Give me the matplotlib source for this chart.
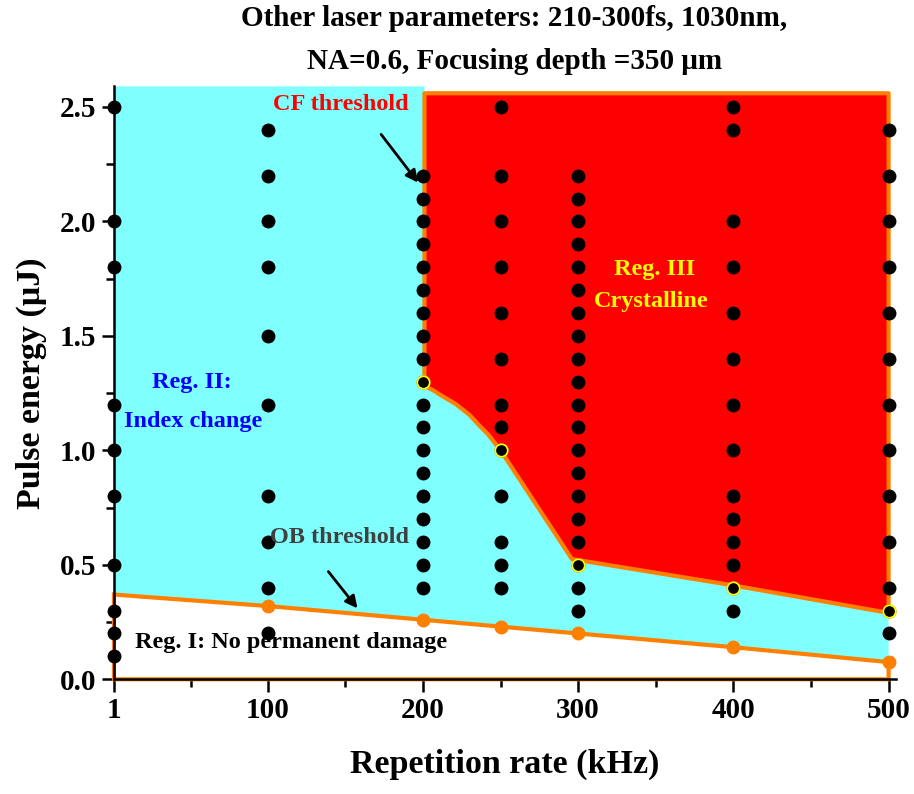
import numpy as np
import matplotlib.pyplot as plt

plt.rcParams['font.family'] = ['Liberation Serif', 'DejaVu Serif']
plt.rcParams['font.weight'] = 'bold'
plt.rcParams['axes.labelweight'] = 'bold'

# scanned points: repetition rate (kHz) -> pulse energies (uJ)
rate_1 = [2.5, 2.0, 1.8, 1.2, 1.0, 0.8, 0.5, 0.3, 0.2, 0.1]
rate_100 = [2.4, 2.2, 2.0, 1.8, 1.5, 1.2, 0.8, 0.6, 0.4, 0.2]
rate_200 = [2.2, 2.1, 2.0, 1.9, 1.8, 1.7, 1.6, 1.5, 1.4, 1.3, 1.2, 1.1, 1.0,
            0.9, 0.8, 0.7, 0.6, 0.5, 0.4]
rate_250 = [2.5, 2.2, 2.0, 1.8, 1.6, 1.4, 1.2, 1.1, 1.0, 0.8, 0.6, 0.5, 0.4]
rate_300 = [2.2, 2.1, 2.0, 1.9, 1.8, 1.7, 1.6, 1.5, 1.4, 1.3, 1.2, 1.1, 1.0,
            0.9, 0.8, 0.7, 0.6, 0.5, 0.4, 0.3]
rate_400 = [2.5, 2.4, 2.0, 1.8, 1.6, 1.4, 1.2, 1.0, 0.8, 0.7, 0.6, 0.5, 0.4, 0.3]
rate_500 = [2.4, 2.2, 2.0, 1.8, 1.6, 1.4, 1.2, 1.0, 0.8, 0.6, 0.4, 0.3, 0.2]
scans = {1: rate_1, 100: rate_100, 200: rate_200, 250: rate_250,
         300: rate_300, 400: rate_400, 500: rate_500}

# optical breakdown (OB) threshold
ob_x = [1, 100, 200, 250, 300, 400, 500]
ob_y = [0.37, 0.32, 0.26, 0.23, 0.20, 0.14, 0.075]

# crystallization (CF) threshold boundary
cf_x = [201, 206, 211, 221, 230, 237, 242, 246, 251, 296, 400, 500]
cf_y = [1.28, 1.265, 1.243, 1.203, 1.155, 1.104, 1.07, 1.035, 0.99,
        0.525, 0.41, 0.29]
cf_mark_x = [200, 250, 300, 400, 500]
cf_mark_y = [1.3, 1.0, 0.5, 0.4, 0.3]
cf_top = 2.56

xticks = [1, 100, 200, 300, 400, 500]
yticks = [0.0, 0.5, 1.0, 1.5, 2.0, 2.5]
ymax = 2.59
xmax = 505

orange = '#FF8000'
cyan = '#80FFFF'

fig = plt.figure(figsize=(9.14, 7.94), dpi=100)
ax = fig.add_axes([0.1247, 0.1445, 0.856, 0.7467])

# region II (cyan)
cyan_x = np.concatenate([ob_x, cf_x[::-1], [cf_x[0], 1]])
cyan_y = np.concatenate([ob_y, cf_y[::-1], [ymax, ymax]])
ax.fill(cyan_x, cyan_y, color=cyan, lw=0, zorder=1)

# region I (white, orange border)
white_x = np.concatenate([[1], ob_x, [500]])
white_y = np.concatenate([[0], ob_y, [0]])
ax.fill(white_x, white_y, facecolor='white', edgecolor=orange, lw=3,
        zorder=2, clip_on=False)

# region III (red, orange border)
red_x = np.concatenate([cf_x, [500, cf_x[0]]])
red_y = np.concatenate([cf_y, [cf_top, cf_top]])
ax.fill(red_x, red_y, facecolor='#FF0000', edgecolor=orange, lw=3,
        joinstyle='round', zorder=2)

ax.plot(ob_x[1:], ob_y[1:], 'o', color=orange, ms=9, zorder=3, clip_on=False)

for rate, energies in scans.items():
    ax.plot([rate] * len(energies), energies, 'o', color='black', ms=9,
            zorder=4, clip_on=False)
ax.plot(cf_mark_x, cf_mark_y, 'o', color='black', mec='yellow', mew=1.3,
        ms=9, zorder=5, clip_on=False)

# labels
ax.text(147, 2.51, 'CF threshold', color='#FF0000', fontsize=17.5,
        ha='center', va='center', zorder=6)
ax.annotate('', xy=(198, 2.16), xytext=(172, 2.39), zorder=6,
            arrowprops=dict(arrowstyle='-|>', color='black', lw=2,
                            mutation_scale=18))
ax.text(146, 0.618, 'OB threshold', color='#404040', fontsize=17.5,
        ha='center', va='center', zorder=6)
ax.annotate('', xy=(159, 0.30), xytext=(138, 0.48), zorder=6,
            arrowprops=dict(arrowstyle='-|>', color='black', lw=2,
                            mutation_scale=18))
ax.text(51, 1.295, 'Reg. II:', color='#0000FF', fontsize=17.5,
        ha='center', va='center', zorder=6)
ax.text(52, 1.124, 'Index change', color='#0000FF', fontsize=17.5,
        ha='center', va='center', zorder=6)
ax.text(349, 1.789, 'Reg. III', color='#FFFF00', fontsize=17.5,
        ha='center', va='center', zorder=6)
ax.text(347, 1.649, 'Crystalline', color='#FFFF00', fontsize=17.5,
        ha='center', va='center', zorder=6)
ax.text(115, 0.159, 'Reg. I: No permanent damage', color='black',
        fontsize=17.5, ha='center', va='center', zorder=6)

ax.set_xlim(1, xmax)
ax.set_ylim(0, ymax)
ax.set_xticks(xticks)
ax.set_xticklabels([str(t) for t in xticks])
ax.set_xticks([50.5, 150, 250, 350, 450], minor=True)
ax.set_yticks(yticks)
ax.set_yticklabels([f'{t:.1f}' for t in yticks])
ax.set_yticks([0.25, 0.75, 1.25, 1.75, 2.25], minor=True)
ax.tick_params(which='major', length=9, width=1.8, labelsize=21, pad=3.5)
ax.tick_params(which='minor', length=5.5, width=1.8)
for side in ['top', 'right']:
    ax.spines[side].set_visible(False)
for side in ['left', 'bottom']:
    ax.spines[side].set_linewidth(1.8)
    ax.spines[side].set_zorder(2.5)

ax.set_xlabel('Repetition rate (kHz)', fontsize=24.5)
ax.set_ylabel('Pulse energy (\u03bcJ)', fontsize=24.5)
ax.xaxis.set_label_coords(0.5, -0.118)
ax.yaxis.set_label_coords(-0.085, 0.5)

fig.text(0.563, 0.977, 'Other laser parameters: 210-300fs, 1030nm,',
         fontsize=21, ha='center', va='center')
fig.text(0.563, 0.922, 'NA=0.6, Focusing depth =350 \u03bcm',
         fontsize=21, ha='center', va='center')

fig.savefig('out.png', dpi=100)
